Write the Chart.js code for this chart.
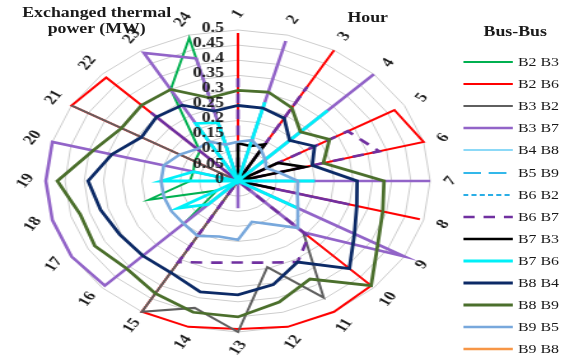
<!DOCTYPE html>
<html><head><meta charset="utf-8">
<script src="https://cdn.jsdelivr.net/npm/chart.js@4.4.0/dist/chart.umd.min.js"></script>
<style>
html,body{margin:0;padding:0;background:#fff;overflow:hidden;width:565px;height:358px}
#wrap{position:relative;width:444px;height:358px;transform:scaleX(1.2725);transform-origin:0 0}
#c{position:absolute;left:0;top:0}
.t{position:absolute;font-family:"Liberation Serif","Times New Roman",serif;font-weight:bold;color:#1a1a1a;white-space:nowrap;font-size:14px;line-height:16px}
.lg{position:absolute;font-family:"Liberation Serif","Times New Roman",serif;color:#1a1a1a;font-size:12.5px;line-height:14px;white-space:nowrap}
</style></head><body>
<div id="wrap">
<canvas id="c" width="444" height="358"></canvas>
<div class="t" style="left:5px;top:5px;width:142px;text-align:center">Exchanged thermal<br>power (MW)</div>
<div class="t" style="left:273px;top:10px">Hour</div>
<div class="t" style="left:380px;top:24px">Bus-Bus</div>
<div id="legend"></div>
</div>
<script>
const hours = ['1','2','3','4','5','6','7','8','9','10','11','12','13','14','15','16','17','18','19','20','21','22','23','24'];
const tickLabels = ['0','0.05','0.1','0.15','0.2','0.25','0.3','0.35','0.4','0.45','0.5'];
const seriesNames = ['B2 B3','B2 B6','B3 B2','B3 B7','B4 B8','B5 B9','B6 B2','B6 B7','B7 B3','B7 B6','B8 B4','B8 B9','B9 B5','B9 B8'];

const b2b3 = [0,0,0,0,0,0,0,0,0,0,0,0,0,0,0,0.195,0.063,0.24,0.125,0.12,0.13,0.14,0.35,0.49];
const b2b6 = [0.49,0,0.5,0,0.47,0.5,0,0.49,0,0.49,0.5,0.5,0.49,0.5,0.5,0,0,0,0.1,0,0.5,0.485,0,0];
const b3b2 = [0,0,0,0,0,0,0,0,0,0.24,0.446,0.295,0.5,0.435,0.5,0,0,0,0,0,0.5,0,0,0];
const b3b7 = [0,0.48,0,0.5,0,0,0.5,0,0.5,0.24,0,0,0.09,0,0,0.49,0.5,0.5,0.5,0.5,0,0,0.49,0.42];
const b4b8 = [0,0,0,0,0,0,0,0,0,0,0,0,0,0,0,0,0,0,0,0,0,0,0,0];
const b5b9 = [0,0,0,0,0,0,0,0,0,0,0,0,0,0,0,0,0,0,0,0,0,0,0,0];
const b6b2 = [0,0,0,0,0,0,0,0,0,0,0,0,0,0,0,0,0,0,0,0,0,0,0,0];
const b6b7 = [0.34,0,0.36,0,0.33,0.38,0,0.3,0,0.26,0.31,0.28,0.27,0.28,0.31,0,0,0,0,0,0,0.32,0,0];
const b7b3 = [0.125,0.12,0.14,0,0.12,0.18,0,0.1,0,0,0,0,0,0,0,0,0,0,0,0,0,0,0,0];
const b7b6 = [0,0.27,0,0.33,0,0,0.2,0,0.18,0,0,0,0,0,0,0.11,0.18,0,0.2,0.12,0,0,0.22,0.2];
const b8b4 = [0.25,0.25,0.24,0.19,0.23,0.2,0.31,0.32,0.35,0.41,0.31,0.355,0.377,0.38,0.35,0.35,0.355,0.37,0.39,0.34,0.29,0.3,0.29,0.24];
const b8b9 = [0.3,0.305,0.28,0.23,0.275,0.23,0.38,0.39,0.42,0.49,0.375,0.415,0.45,0.45,0.43,0.41,0.43,0.425,0.47,0.39,0.35,0.355,0.35,0.285];
const b9b5 = [0.13,0.14,0.12,0.1,0.085,0.11,0.156,0.16,0.18,0.22,0.165,0.14,0.195,0.19,0.21,0.2,0.2,0.2,0.2,0.2,0.175,0.15,0.15,0.125];
const b9b8 = [0,0,0,0,0,0,0,0,0,0,0,0,0,0,0,0,0,0,0,0,0,0,0,0];

const seriesData = [b2b3,b2b6,b3b2,b3b7,b4b8,b5b9,b6b2,b6b7,b7b3,b7b6,b8b4,b8b9,b9b5,b9b8];
const colors = ['#00b050','#ff0000','#5f5f5f','#9264c8','#66ccf5','#33b8ea','#2aaee6','#7030a0','#000000','#00f0f8','#0c2a66','#4b6f2c','#78a8dc','#f79646'];
const widths = [2,2,2,2.6,1.6,2.2,2,2.6,2.6,2.8,2.8,2.8,2.6,2.4];
const dashes = [[],[],[],[],[],[14,6],[4,2.5],[9,7],[],[],[],[],[],[]];
const tickValues = tickLabels.map(Number);

const datasets = seriesNames.map((n,i)=>({
  label:n, data:seriesData[i], borderColor:colors[i], backgroundColor:'transparent',
  borderWidth:widths[i], borderDash:dashes[i], pointRadius:0, fill:false, tension:0,
  clip:false, order:seriesNames.length-i, borderJoinStyle:'miter'
}));

const labelPlugin = {
  id:'labelPlugin',
  afterDraw(chart){
    const s = chart.scales.r, ctx = chart.ctx;
    ctx.save();
    ctx.font = 'bold 14px "Liberation Serif"';
    ctx.fillStyle = '#1a1a1a';
    ctx.textAlign = 'right'; ctx.textBaseline = 'middle';
    tickValues.forEach((v,i)=>{
      const y = s.yCenter - s.getDistanceFromCenterForValue(v);
      ctx.fillText(tickLabels[i], s.xCenter - 11, y - 2);
    });
    ctx.textAlign = 'center';
    hours.forEach((h,i)=>{
      const p = s.getPointPosition(i, s.drawingArea + 16);
      ctx.save(); ctx.translate(p.x,p.y); ctx.rotate(-55*Math.PI/180);
      ctx.fillText(h,0,0); ctx.restore();
    });
    ctx.restore();
  }
};

new Chart(document.getElementById('c'),{
  type:'radar',
  data:{labels:hours, datasets},
  options:{
    responsive:false, animation:false, devicePixelRatio:1,
    layout:{padding:{left:36,right:106,top:30,bottom:26}},
    plugins:{legend:{display:false}, tooltip:{enabled:false}, title:{display:false}},
    scales:{r:{min:0,max:0.5,
      ticks:{display:false,stepSize:0.05},
      grid:{circular:false,color:'#cdcdcd',lineWidth:1},
      angleLines:{display:false},
      pointLabels:{display:false}
    }}
  },
  plugins:[labelPlugin]
});

const lg = document.getElementById('legend');
seriesNames.forEach((n,i)=>{
  const y = 62 + 22.1*i;
  const svg = document.createElementNS('http://www.w3.org/2000/svg','svg');
  svg.setAttribute('width','40'); svg.setAttribute('height','8');
  svg.style.position='absolute'; svg.style.left='364px'; svg.style.top=(y-4)+'px';
  const ln = document.createElementNS('http://www.w3.org/2000/svg','line');
  ln.setAttribute('x1','0'); ln.setAttribute('y1','4'); ln.setAttribute('x2','39'); ln.setAttribute('y2','4');
  ln.setAttribute('stroke',colors[i]); ln.setAttribute('stroke-width',String(widths[i]));
  if(dashes[i].length) ln.setAttribute('stroke-dasharray',dashes[i].join(' '));
  svg.appendChild(ln); lg.appendChild(svg);
  const d = document.createElement('div'); d.className='lg';
  d.style.left='407px'; d.style.top=(y-7)+'px'; d.textContent=n; lg.appendChild(d);
});
</script>
</body></html>
